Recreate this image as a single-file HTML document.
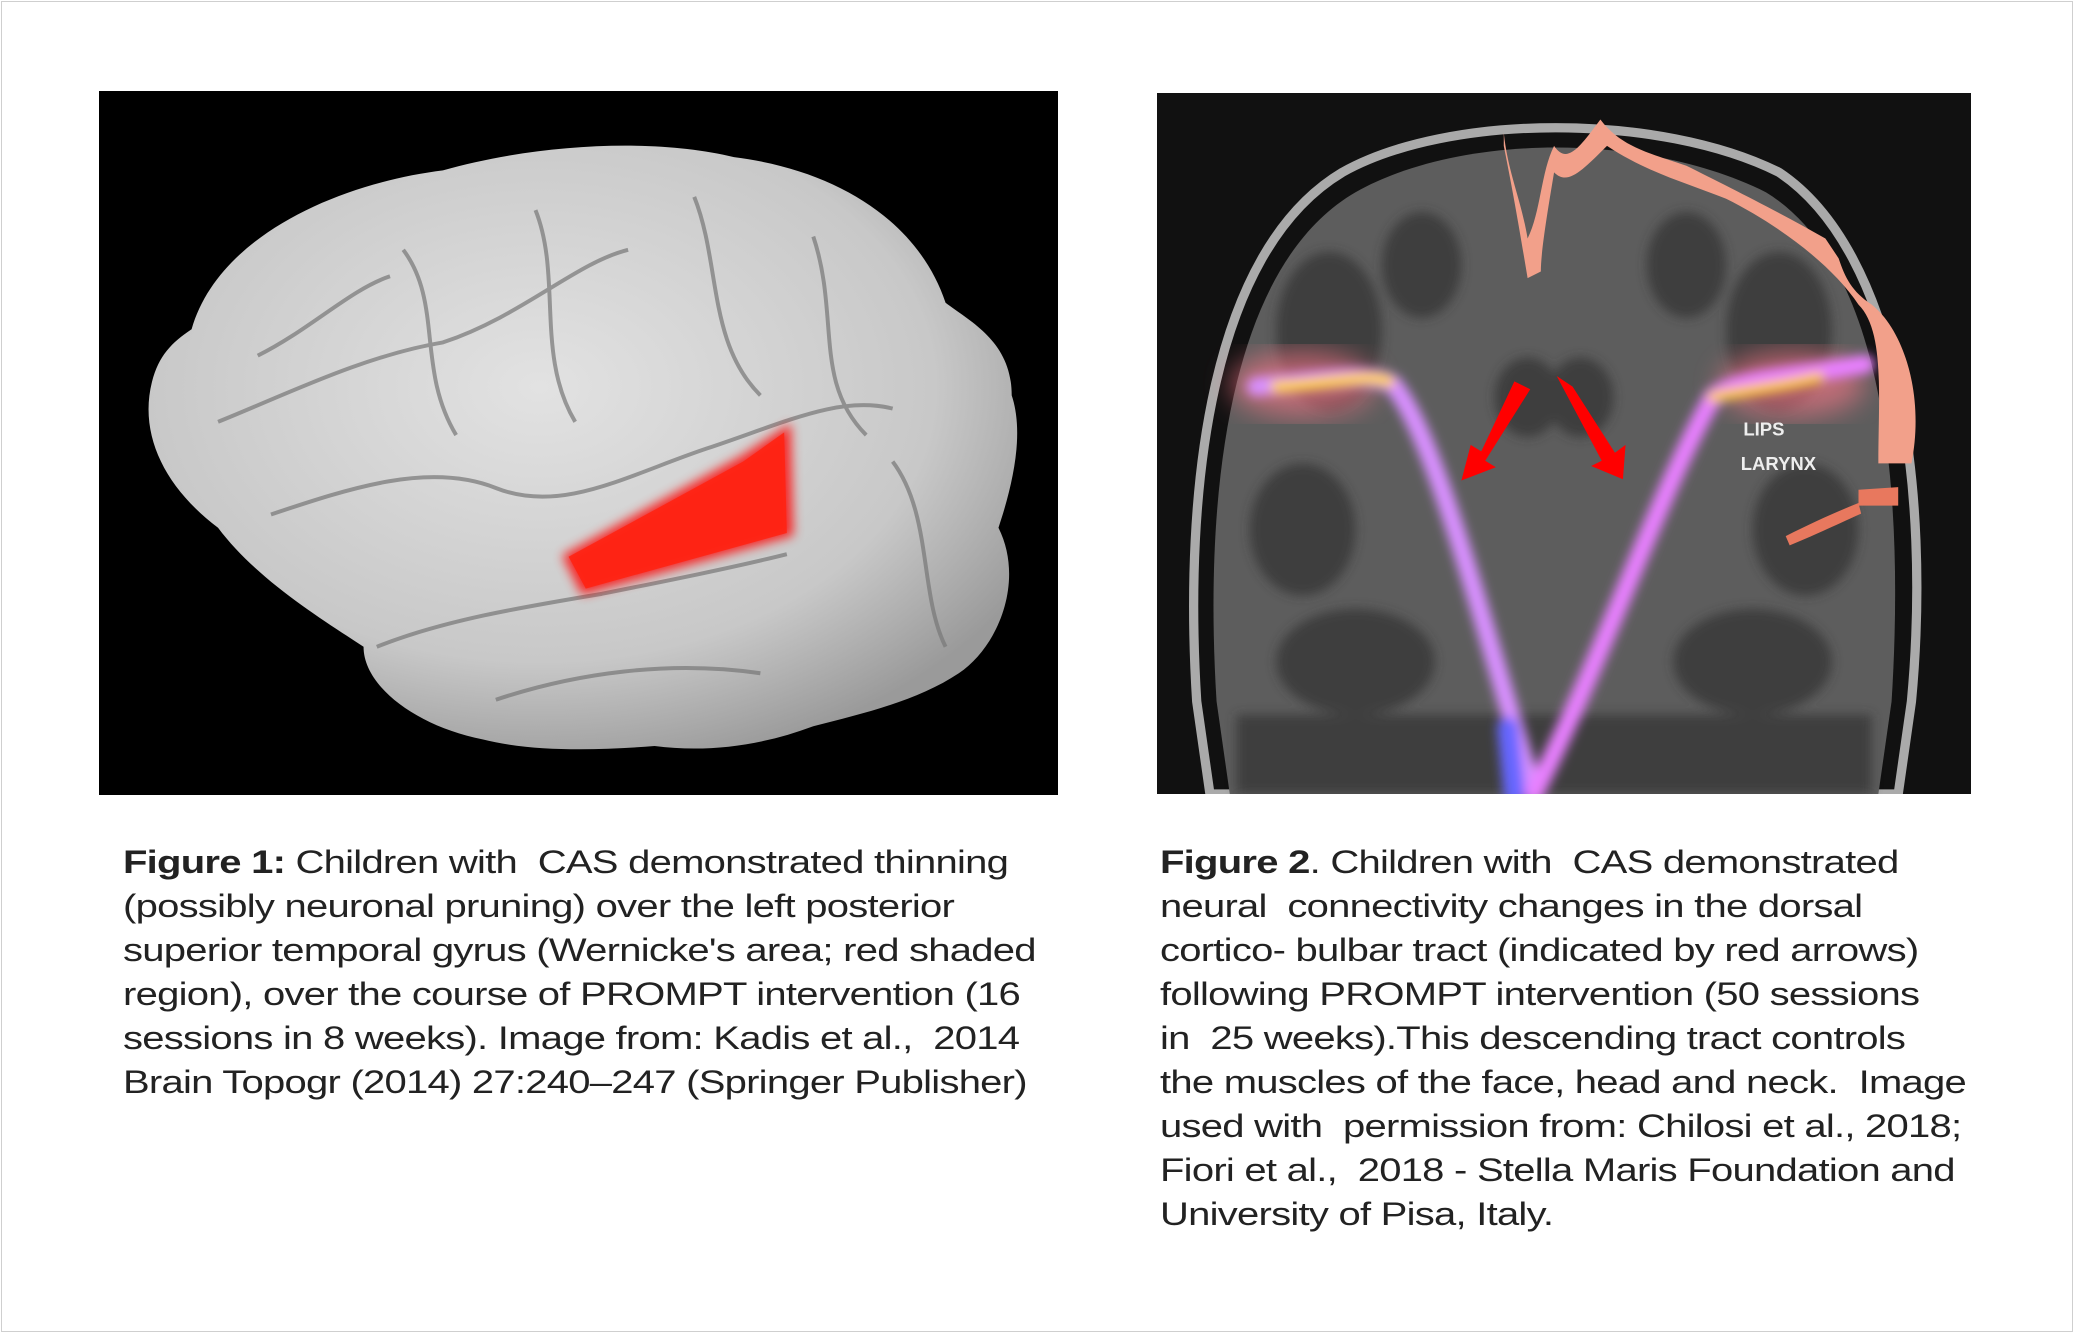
<!DOCTYPE html>
<html><head><meta charset="utf-8"><style>
html,body{margin:0;padding:0;background:#fff}
#root{position:relative;width:2074px;height:1333px;overflow:hidden;background:#fff}
.frame{position:absolute;left:1px;top:1px;width:2070px;height:1329px;border:1px solid #cfcfcf}
.img{position:absolute}
.cap{position:absolute;font-family:"Liberation Sans",sans-serif;font-size:32px;line-height:44px;color:#222;white-space:nowrap;letter-spacing:-0.6px;transform:scaleX(1.25);transform-origin:0 0}
</style></head><body><div id="root">
<div class="frame"></div>
<svg class="img" style="left:99px;top:91px" width="959" height="704" viewBox="0 0 725 532" preserveAspectRatio="none">
<defs>
<radialGradient id="bg1" cx="45%" cy="40%" r="65%"><stop offset="0" stop-color="#e2e2e2"/><stop offset="0.7" stop-color="#c8c8c8"/><stop offset="1" stop-color="#9a9a9a"/></radialGradient>
<filter id="bl"><feGaussianBlur stdDeviation="4"/></filter>
</defs>
<rect width="725" height="532" fill="#000"/>
<path d="M70,180 C90,110 180,70 260,60 C330,40 420,35 480,50 C560,60 620,100 640,160 C660,175 690,190 690,230 C700,260 690,300 680,330 C700,370 680,420 650,440 C620,460 580,470 540,480 C500,495 460,500 420,495 C380,498 330,500 290,490 C240,480 200,450 200,420 C170,400 120,370 90,330 C50,300 30,260 40,220 C45,200 55,190 70,180 Z" fill="url(#bg1)"/>
<g fill="none" stroke="#777" stroke-width="3" opacity="0.7">
<path d="M90,250 C140,230 200,200 260,190 C320,170 360,130 400,120"/>
<path d="M130,320 C190,300 250,280 300,300 C350,320 400,290 460,270 C520,250 560,230 600,240"/>
<path d="M210,420 C260,400 320,390 380,380 C430,370 480,360 520,350"/>
<path d="M230,120 C260,160 240,210 270,260"/>
<path d="M330,90 C350,140 330,200 360,250"/>
<path d="M450,80 C470,130 460,190 500,230"/>
<path d="M540,110 C560,170 540,220 580,260"/>
<path d="M600,280 C630,320 620,380 640,420"/>
<path d="M300,460 C360,440 430,430 500,440"/>
<path d="M120,200 C160,180 190,150 220,140"/>
</g>
<polygon points="350,351 365,381 525,336 523,251 485,276" fill="#f00" opacity="0.8" filter="url(#bl)"/>
<polygon points="355,352 368,376 520,334 518,258 487,280" fill="#f21" opacity="0.85"/>
</svg>
<svg class="img" style="left:1157px;top:93px" width="814" height="701" viewBox="0 0 615 530" preserveAspectRatio="none">
<defs>
<filter id="b2"><feGaussianBlur stdDeviation="4"/></filter>
<filter id="b3"><feGaussianBlur stdDeviation="10"/></filter>
</defs>
<rect width="615" height="530" fill="#111"/>
<path d="M30,460 C20,300 40,120 140,60 C220,15 380,15 470,60 C560,120 585,300 570,460 L560,530 L40,530 Z" fill="none" stroke="#aaa" stroke-width="7"/>
<path d="M45,460 C35,300 55,130 150,75 C230,30 370,30 460,75 C550,130 565,300 555,460 L545,530 L55,530 Z" fill="#5d5d5d"/>
<g fill="#333" opacity="0.7" filter="url(#b2)">
<ellipse cx="130" cy="180" rx="40" ry="60"/><ellipse cx="470" cy="180" rx="40" ry="60"/>
<ellipse cx="110" cy="330" rx="40" ry="50"/><ellipse cx="490" cy="330" rx="40" ry="50"/>
<ellipse cx="200" cy="130" rx="30" ry="40"/><ellipse cx="400" cy="130" rx="30" ry="40"/>
<ellipse cx="150" cy="430" rx="60" ry="40"/><ellipse cx="450" cy="430" rx="60" ry="40"/>
<ellipse cx="280" cy="230" rx="25" ry="30"/><ellipse cx="320" cy="230" rx="25" ry="30"/>
<rect x="60" y="470" width="480" height="60"/>
</g>
<g filter="url(#b3)" opacity="0.6"><ellipse cx="110" cy="220" rx="55" ry="25" fill="#f78"/><ellipse cx="480" cy="220" rx="55" ry="25" fill="#f78"/></g>
<g fill="none" stroke-linecap="round" filter="url(#b2)">
<path d="M75,222 C120,218 160,210 178,220 C210,260 240,380 285,530" stroke="#d890ff" stroke-width="14"/>
<path d="M535,205 C480,215 440,215 420,230 C380,300 340,420 285,530" stroke="#e880ff" stroke-width="14"/>
<path d="M265,480 L270,530" stroke="#66f" stroke-width="16"/>
<path d="M90,222 C130,220 160,212 175,218" stroke="#ffd040" stroke-width="9"/>
<path d="M420,230 C450,224 470,222 500,215" stroke="#ffcc40" stroke-width="8"/>
</g>
<g fill="#f00">
<polygon points="270,218 282,224 248,278 256,283 230,293 237,266 245,271"/>
<polygon points="302,214 314,222 346,272 354,266 352,292 328,282 336,278"/>
</g>
<path d="M262,30 C265,60 275,80 280,110 C290,90 290,60 300,40 C310,55 320,40 335,20 C350,40 370,45 400,55 C430,70 470,90 505,110 L515,125 C520,140 525,150 540,160 C565,180 580,230 570,280 L545,280 C545,230 550,180 530,160 C510,130 470,100 430,80 C400,68 370,60 340,40 C320,60 310,70 300,60 C295,90 290,120 290,135 L280,140 C275,110 270,80 262,40 Z" fill="#f2a08a"/>
<path d="M530,300 L560,298 L560,312 L530,312 Z M475,335 C495,325 510,318 530,310 L532,318 C510,328 495,335 478,342 Z" fill="#e8785e"/>
<text x="443" y="259" font-family="Liberation Sans,sans-serif" font-weight="bold" font-size="14" fill="#eee">LIPS</text>
<text x="441" y="285" font-family="Liberation Sans,sans-serif" font-weight="bold" font-size="14" fill="#eee">LARYNX</text>
</svg>
<div class="cap" style="left:123px;top:840px"><b>Figure 1:</b> Children with &nbsp;CAS demonstrated thinning<br>(possibly neuronal pruning) over the left posterior<br>superior temporal gyrus (Wernicke's area; red shaded<br>region), over the course of PROMPT intervention (16<br>sessions in 8 weeks). Image from: Kadis et al., &nbsp;2014<br>Brain Topogr (2014) 27:240–247 (Springer Publisher)</div>
<div class="cap" style="left:1160px;top:840px"><b>Figure 2</b>. Children with &nbsp;CAS demonstrated<br>neural &nbsp;connectivity changes in the dorsal<br>cortico- bulbar tract (indicated by red arrows)<br>following PROMPT intervention (50 sessions<br>in &nbsp;25 weeks).This descending tract controls<br>the muscles of the face, head and neck. &nbsp;Image<br>used with &nbsp;permission from: Chilosi et al., 2018;<br>Fiori et al., &nbsp;2018 - Stella Maris Foundation and<br>University of Pisa, Italy.</div>
</div></body></html>
